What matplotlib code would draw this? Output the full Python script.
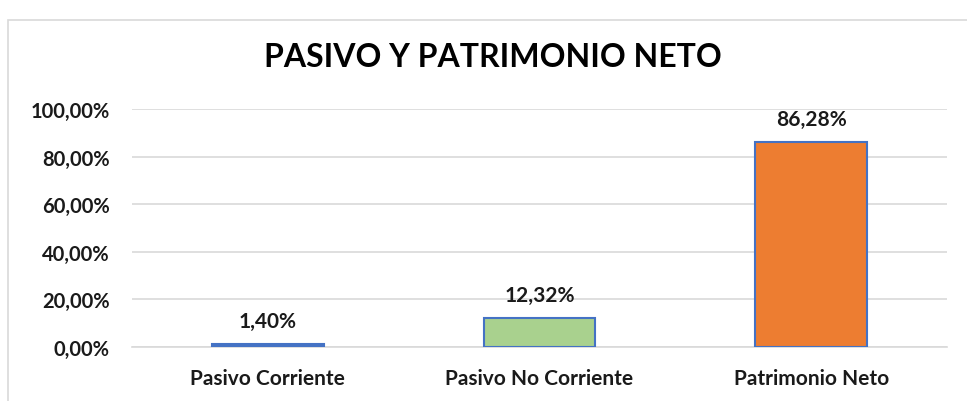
import matplotlib.pyplot as plt
from matplotlib.patches import Rectangle

categorias = ['Pasivo Corriente', 'Pasivo No Corriente', 'Patrimonio Neto']
valores = [1.40, 12.32, 86.28]
colores = ['#4472C4', '#A9D18E', '#ED7D31']
ticks_y = [0, 20, 40, 60, 80, 100]

plt.rcParams['font.family'] = ['Lato', 'DejaVu Sans']
plt.rcParams['font.weight'] = 'bold'

fig = plt.figure(figsize=(9.67, 4.02), dpi=100)
# borde del area del grafico
fig.patches.append(Rectangle((8 / 967, -0.1), 1.2, 1 - 21 / 402 + 0.1,
                             transform=fig.transFigure, fill=False,
                             edgecolor='#D9D9D9', lw=1.2))

ax = fig.add_axes([132 / 967, 1 - 348 / 402, 815 / 967, 238 / 402])
barras = ax.bar(categorias, valores, width=0.41, color=colores,
                edgecolor='#4472C4', lw=1.5, zorder=3)

for b, v in zip(barras, valores):
    ax.annotate(('%.2f%%' % v).replace('.', ','),
                (b.get_x() + b.get_width() / 2, b.get_height()),
                xytext=(0, 9), textcoords='offset points',
                ha='center', va='bottom', fontsize=15, fontweight='bold',
                color='#1a1a1a')

ax.set_xlim(-0.5, 2.5)
ax.set_ylim(0, 100)
ax.set_yticks(ticks_y)
ax.set_yticklabels([('%.2f%%' % t).replace('.', ',') for t in ticks_y])
ax.grid(axis='y', color='#D9D9D9', lw=1.2, zorder=0)
for s in ['top', 'right', 'left']:
    ax.spines[s].set_visible(False)
ax.spines['bottom'].set_color('#D9D9D9')
ax.spines['bottom'].set_linewidth(1.2)
ax.tick_params(axis='both', length=0, colors='#1a1a1a')
ax.tick_params(axis='x', pad=15, labelsize=15)
ax.tick_params(axis='y', pad=16, labelsize=14.5)

fig.text(493 / 967, 1 - 67 / 402, 'PASIVO Y PATRIMONIO NETO', ha='center',
         va='baseline', fontsize=23, fontweight='bold', color='#000000')

fig.savefig('out.png', dpi=100)
